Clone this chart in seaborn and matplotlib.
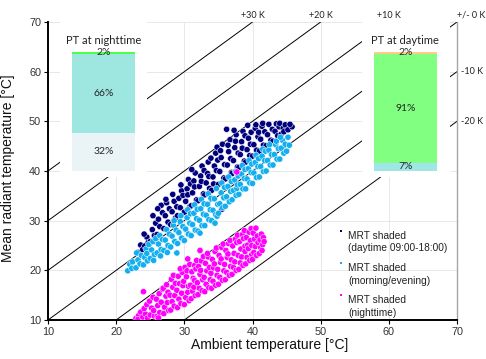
import numpy as np
import pandas as pd
import matplotlib
matplotlib.use("Agg")
import matplotlib.pyplot as plt
import seaborn as sns
from matplotlib.patches import Rectangle

sns.set_theme(style="white")
plt.rcParams['font.family'] = ['Liberation Sans', 'DejaVu Sans']

# ---------------- data ----------------
day_points = [
    (23.2, 23.6), (23.6, 25.1), (23.9, 24.2),
    (24.2, 24.9), (24.5, 26.7), (24.7, 25.6), (24.1, 27.3),
    (25.0, 25.8), (25.3, 28.2), (25.4, 31.0), (25.6, 27.0), (25.8, 29.5),
    (26.0, 27.2), (26.2, 30.3), (26.6, 33.1), (26.4, 28.8), (26.8, 31.6), (26.1, 32.4),
    (27.0, 28.4), (27.2, 31.0), (27.4, 33.6), (27.6, 29.7), (27.8, 32.4), (27.3, 34.3),
    (28.0, 29.2), (28.3, 35.3), (28.2, 31.8), (28.5, 33.9), (28.7, 30.5), (28.9, 32.8),
    (29.0, 31.0), (29.2, 34.5), (29.6, 36.0), (29.4, 32.6), (29.8, 35.1), (29.5, 37.2),
    (30.0, 31.7), (30.2, 33.9), (30.4, 36.4), (30.6, 38.3), (30.8, 32.8), (30.5, 35.2), (30.9, 37.4),
    (31.0, 33.0), (31.2, 35.6), (31.4, 38.0), (31.6, 39.6), (31.8, 34.2), (31.5, 36.8), (31.1, 40.3),
    (32.0, 34.0), (32.2, 36.9), (32.4, 39.0), (32.6, 41.0), (32.8, 35.4), (32.5, 37.9), (32.9, 40.1),
    (33.0, 35.2), (33.2, 37.6), (33.5, 41.8), (33.4, 39.5), (33.7, 36.5), (33.9, 42.6), (33.6, 38.9),
    (34.0, 36.1), (34.2, 38.8), (34.4, 41.0), (34.6, 43.6), (34.8, 44.8), (34.3, 37.4), (34.7, 40.1), (34.9, 42.2),
    (35.0, 37.3), (35.2, 39.9), (35.4, 42.7), (35.6, 45.4), (35.5, 32.3), (35.8, 38.6), (35.3, 44.1), (35.9, 41.3),
    (36.0, 38.4), (36.2, 48.4), (36.3, 41.2), (36.5, 43.9), (36.7, 46.3), (36.9, 39.7), (36.4, 45.2), (36.8, 42.5),
    (37.0, 39.5), (37.2, 42.1), (37.4, 44.7), (37.6, 47.3), (37.8, 40.8), (37.5, 46.0), (37.9, 43.6), (37.3, 48.2),
    (38.0, 40.7), (38.2, 43.3), (38.4, 45.9), (38.6, 48.0), (38.8, 42.0), (38.5, 44.6), (38.9, 47.1),
    (39.0, 41.8), (39.3, 49.2), (39.2, 44.3), (39.4, 46.6), (39.6, 43.1), (39.8, 47.8), (39.7, 45.4),
    (40.0, 43.0), (40.2, 45.3), (40.4, 48.6), (40.6, 44.2), (40.8, 46.9), (40.5, 49.3), (40.9, 47.8),
    (41.0, 44.0), (41.2, 46.4), (41.4, 49.0), (41.6, 45.2), (41.8, 47.9), (41.5, 49.6),
    (42.0, 45.1), (42.2, 47.3), (42.4, 49.4), (42.7, 46.2), (42.9, 48.4),
    (43.0, 46.0), (43.3, 48.0), (43.5, 49.5), (43.7, 47.1), (43.9, 48.9),
    (44.0, 49.6), (44.2, 47.4), (44.5, 48.6), (44.8, 49.3), (44.6, 47.9),
    (45.2, 48.3), (45.8, 48.9), (45.5, 49.4),
]

morning_points = [
    (21.7, 19.9), (22.0, 21.2), (22.4, 21.7), (22.3, 20.4),
    (22.9, 20.5), (23.0, 23.5), (23.2, 22.1), (23.5, 21.3), (23.7, 23.0),
    (24.0, 21.1), (24.2, 22.6), (24.4, 24.3), (24.6, 21.9), (24.8, 25.2), (24.5, 23.4),
    (25.0, 22.4), (25.2, 24.1), (25.4, 25.8), (25.6, 23.2), (25.8, 26.4), (25.5, 22.0),
    (26.0, 23.5), (26.2, 25.3), (26.4, 27.0), (26.6, 24.2), (26.8, 26.2), (26.5, 22.9),
    (27.0, 24.0), (27.2, 26.1), (27.4, 28.2), (27.6, 25.0), (27.8, 27.3), (27.5, 23.6),
    (28.0, 24.7), (28.2, 26.9), (28.4, 29.1), (28.6, 25.8), (28.8, 28.1), (28.9, 23.5), (28.5, 30.0),
    (29.0, 25.4), (29.2, 27.6), (29.4, 29.8), (29.6, 26.5), (29.8, 28.8), (29.5, 31.0),
    (30.0, 26.0), (30.2, 28.3), (30.4, 30.6), (30.6, 27.3), (30.8, 29.5), (30.5, 32.2), (30.9, 31.4),
    (31.0, 27.0), (31.2, 29.2), (31.4, 31.5), (31.6, 28.1), (31.8, 30.4), (31.5, 33.2), (31.9, 32.3),
    (32.0, 27.9), (32.3, 27.5), (32.2, 30.1), (32.4, 32.4), (32.6, 29.0), (32.8, 31.3), (32.5, 34.3), (32.9, 33.4),
    (33.0, 29.0), (33.2, 31.1), (33.4, 33.3), (33.6, 30.2), (33.8, 32.2), (33.5, 35.4), (33.9, 34.5),
    (34.0, 30.0), (34.2, 32.1), (34.5, 29.5), (34.4, 34.4), (34.6, 31.2), (34.8, 30.9), (34.7, 36.5), (34.9, 33.3),
    (35.0, 31.5), (35.2, 33.4), (35.4, 35.6), (35.6, 32.6), (35.8, 34.6), (35.5, 37.6), (35.9, 36.7),
    (36.0, 32.9), (36.2, 34.8), (36.4, 36.9), (36.6, 33.8), (36.8, 35.9), (36.5, 38.8), (36.9, 37.9),
    (37.0, 34.2), (37.2, 36.1), (37.4, 38.2), (37.7, 36.5), (37.6, 35.1), (37.8, 37.2), (37.5, 39.9), (37.9, 39.0),
    (38.0, 35.3), (38.2, 37.3), (38.4, 39.4), (38.6, 36.4), (38.8, 38.5), (38.5, 41.1), (38.9, 40.3),
    (39.0, 36.4), (39.2, 38.4), (39.4, 40.5), (39.6, 37.6), (39.5, 42.1), (39.8, 39.7), (39.9, 41.4),
    (40.0, 37.5), (40.2, 39.6), (40.4, 41.7), (40.6, 38.7), (40.8, 40.9), (40.5, 43.2), (40.9, 42.5),
    (41.0, 38.8), (41.2, 40.9), (41.4, 43.0), (41.6, 39.9), (41.8, 42.1), (41.5, 44.4), (41.9, 44.0),
    (42.0, 40.0), (42.2, 42.1), (42.4, 44.2), (42.6, 41.2), (42.8, 43.3), (42.5, 45.3),
    (43.0, 41.2), (43.2, 43.3), (43.4, 45.3), (43.6, 42.4), (43.8, 44.5), (43.5, 46.0),
    (44.0, 42.4), (44.2, 44.6), (44.4, 46.2), (44.6, 43.6), (44.8, 45.4), (44.1, 46.8),
    (45.0, 44.0), (45.2, 46.8), (45.4, 45.2),
]

night_points = [
    (22.9, 10.3), (23.3, 10.9), (23.6, 11.6), (23.2, 10.1),
    (24.0, 15.7), (23.9, 10.6), (24.3, 11.2), (24.1, 12.3), (24.6, 10.4), (24.5, 13.1),
    (25.0, 11.0), (25.2, 12.4), (24.9, 13.8), (25.4, 14.6), (25.6, 10.8), (25.5, 11.9),
    (26.0, 10.7), (26.1, 12.9), (25.9, 14.2), (26.3, 15.3), (26.4, 11.5), (26.6, 13.6), (26.8, 16.2), (26.2, 10.4),
    (27.0, 11.3), (27.1, 12.6), (27.3, 14.8), (26.9, 16.4), (27.5, 13.5), (27.4, 17.1), (27.7, 11.9), (27.6, 15.6),
    (28.0, 12.0), (28.2, 13.7), (27.9, 15.0), (28.3, 16.6), (28.1, 18.2), (28.5, 12.8), (28.6, 14.9), (28.7, 17.4), (28.4, 19.0),
    (29.0, 12.5), (29.2, 14.2), (28.9, 16.0), (29.3, 17.3), (29.1, 18.8), (29.5, 13.3), (29.6, 15.4), (29.7, 19.6), (29.4, 20.3), (29.8, 16.9),
    (30.0, 13.1), (30.2, 14.5), (29.9, 17.8), (30.3, 18.7), (30.1, 20.6), (30.5, 15.6), (30.6, 16.8), (30.4, 19.9), (30.7, 13.9), (30.8, 21.2), (30.5, 22.3),
    (31.0, 14.3), (31.2, 15.8), (30.9, 17.0), (31.3, 18.4), (31.1, 19.7), (31.5, 21.0), (31.6, 14.9), (31.4, 16.6), (31.7, 20.3), (31.8, 22.0), (31.5, 18.0),
    (32.0, 15.1), (32.2, 16.4), (31.9, 17.5), (32.3, 19.2), (32.1, 20.8), (32.5, 21.9), (32.3, 24.0), (32.6, 15.9), (32.7, 18.1), (32.8, 22.8), (32.4, 20.0),
    (33.0, 15.7), (33.2, 17.2), (32.9, 18.6), (33.3, 19.9), (33.1, 21.4), (33.5, 22.7), (33.6, 16.5), (33.4, 23.4), (33.7, 20.6), (33.8, 18.1),
    (34.0, 16.4), (34.2, 17.8), (33.9, 19.4), (34.3, 20.5), (34.1, 22.2), (34.5, 23.8), (34.6, 17.0), (34.4, 21.3), (34.7, 24.5), (34.8, 19.0),
    (35.0, 17.2), (35.2, 18.6), (34.9, 20.2), (35.3, 21.6), (35.1, 23.0), (35.5, 24.6), (35.6, 18.0), (35.4, 22.3), (35.7, 25.3), (35.8, 19.9),
    (36.0, 18.1), (36.2, 19.6), (35.9, 21.2), (36.3, 22.6), (36.1, 24.0), (36.5, 25.4), (36.6, 19.0), (36.4, 23.3), (36.7, 26.0), (36.8, 20.8),
    (37.0, 19.2), (37.2, 20.6), (36.9, 22.1), (37.3, 23.4), (37.1, 24.9), (37.5, 26.3), (37.6, 20.0), (37.4, 21.7), (37.7, 25.6), (37.8, 27.1),
    (38.0, 20.2), (38.2, 21.5), (37.9, 23.0), (38.3, 24.3), (38.1, 25.8), (38.5, 27.2), (38.6, 21.0), (38.4, 22.7), (38.7, 26.4), (38.8, 28.0), (38.9, 24.9),
    (39.0, 21.3), (39.2, 22.6), (38.9, 23.8), (39.3, 25.1), (39.1, 26.6), (39.5, 27.7), (39.6, 22.0), (39.4, 24.4), (39.7, 26.0), (39.8, 28.4), (39.9, 23.2),
    (40.0, 22.2), (40.2, 23.6), (39.9, 25.0), (40.3, 26.3), (40.1, 27.5), (40.5, 28.5), (40.6, 23.0), (40.4, 24.8), (40.7, 26.9), (40.8, 25.6),
    (41.0, 23.4), (41.2, 24.6), (41.1, 26.1), (41.3, 27.3), (41.5, 25.2), (41.6, 26.6), (41.4, 24.0), (41.7, 25.8),
    (37.7, 39.8),
]

series_names = ["MRT shaded\n(daytime 09:00-18:00)",
                "MRT shaded\n(morning/evening)",
                "MRT shaded\n(nighttime)"]
series_colors = ["#00007E", "#12AEEF", "#FF00FF"]

offsets_k = [30, 20, 10, 0, -10, -20]
offset_labels = ["+30 K", "+20 K", "+10 K", "+/- 0 K", "-10 K", "-20 K"]

night_pt_title = "PT at nighttime"
night_pt_shares = [32, 66, 2]
night_pt_labels = ["32%", "66%", "2%"]
night_pt_colors = ["#EAF4F6", "#9EE6E0", "#4CFF4C"]

day_pt_title = "PT at daytime"
day_pt_shares = [7, 91, 2]
day_pt_labels = ["7%", "91%", "2%"]
day_pt_colors = ["#9FE6E6", "#80FF80", "#FFCC88"]

axis_ticks = [10, 20, 30, 40, 50, 60, 70]

# ---------------- figure ----------------
fig = plt.figure(figsize=(4.86, 3.59), dpi=100)
ax = fig.add_axes([48 / 486, 1 - 320 / 359, 409 / 486, 298 / 359])

rows = []
for name, pts in zip(series_names, [day_points, morning_points, night_points]):
    for ta, mrt in pts:
        rows.append({"Ta": ta, "MRT": mrt, "series": name})
df = pd.DataFrame(rows)

# reference lines
xs = np.array([axis_ticks[0], axis_ticks[-1]], dtype=float)
for off in offsets_k:
    ax.plot(xs, xs + off, color="black", lw=0.7, zorder=1)

sns.scatterplot(data=df, x="Ta", y="MRT", hue="series", hue_order=series_names,
                palette=series_colors, s=20, marker="o", edgecolor="white",
                linewidth=0.35, ax=ax, zorder=3, legend=False)

ax.set_xlim(axis_ticks[0], axis_ticks[-1])
ax.set_ylim(axis_ticks[0], axis_ticks[-1])
ax.set_xticks(axis_ticks)
ax.set_yticks(axis_ticks)
ax.tick_params(axis="both", labelsize=7.8, labelcolor="#333333", length=3,
               width=0.8, color="black", direction="out", pad=2,
               bottom=True, left=True)
ax.grid(True, color="#E4E4E4", lw=0.6, zorder=0)
ax.set_axisbelow(True)

for s in ["left", "bottom"]:
    ax.spines[s].set_color("black")
    ax.spines[s].set_linewidth(1.4)
ax.spines["top"].set_visible(False)
ax.spines["right"].set_color("#A6A6A6")
ax.spines["right"].set_linewidth(1.0)

ax.set_xlabel("Ambient temperature [°C]", fontsize=10, color="#111111")
ax.set_ylabel("Mean radiant temperature [°C]", fontsize=10, color="#111111")
ax.xaxis.set_label_coords(0.543, -0.06)
ax.yaxis.set_label_coords(-0.08, 0.51)

# offset labels
xmax = axis_ticks[-1]
ymax = axis_ticks[-1]
lab_font = dict(fontsize=6.5, family=["Lato", "DejaVu Sans"], color="#222222")
for off, lab in zip(offsets_k, offset_labels):
    if off > 0:
        ax.annotate(lab, xy=(ymax - off, ymax), xytext=(0, 5), textcoords="offset points",
                    ha="center", va="center", annotation_clip=False, **lab_font)
    elif off == 0:
        ax.annotate(lab, xy=(xmax, ymax), xytext=(0, 5), textcoords="offset points",
                    ha="left", va="center", annotation_clip=False, **lab_font)
    else:
        ax.annotate(lab, xy=(xmax, xmax + off), xytext=(3, 0), textcoords="offset points",
                    ha="left", va="center", annotation_clip=False, **lab_font)

# inset stacked bars
bar_bottom, bar_span = 40.0, 24.0
insets = [
    (18.14, 9.24, (11.8, 24.5), night_pt_title, night_pt_shares, night_pt_labels, night_pt_colors),
    (62.42, 9.24, (56.0, 69.0), day_pt_title, day_pt_shares, day_pt_labels, day_pt_colors),
]
for xc, w, (bx0, bx1), title, shares, labels, colors in insets:
    ax.add_patch(Rectangle((bx0, 38.8), bx1 - bx0, 31.5, facecolor="white",
                           edgecolor="none", zorder=2))
    base = bar_bottom
    for sh, lab, col in zip(shares, labels, colors):
        h = sh * bar_span / 100.0
        ax.bar(xc, h, bottom=base, width=w, color=col, edgecolor="none", zorder=4)
        ax.text(xc, base + h / 2, lab, ha="center", va="center", fontsize=7.5,
                family=["Lato", "DejaVu Sans"], color="#262626", zorder=5)
        base += h
    ax.text(xc, 66.3, title, ha="center", va="center", fontsize=8,
            family=["Lato", "DejaVu Sans"], color="#222222", zorder=5)

# legend (proxy scatter handles so the marker can sit on the first text line)
handles = [ax.scatter([], [], s=4, color=c, marker="s", linewidths=0) for c in series_colors]
leg = ax.legend(handles, series_names, loc="upper left", bbox_to_anchor=(0.70, 0.312),
                frameon=False, fontsize=7.3, handlelength=0.6, scatterpoints=1,
                handletextpad=0.35, labelspacing=0.95, borderaxespad=0,
                scatteryoffsets=[2.2])
for t in leg.get_texts():
    t.set_color("#222222")
    t.set_linespacing(1.3)

fig.savefig("out.png", dpi=100)
